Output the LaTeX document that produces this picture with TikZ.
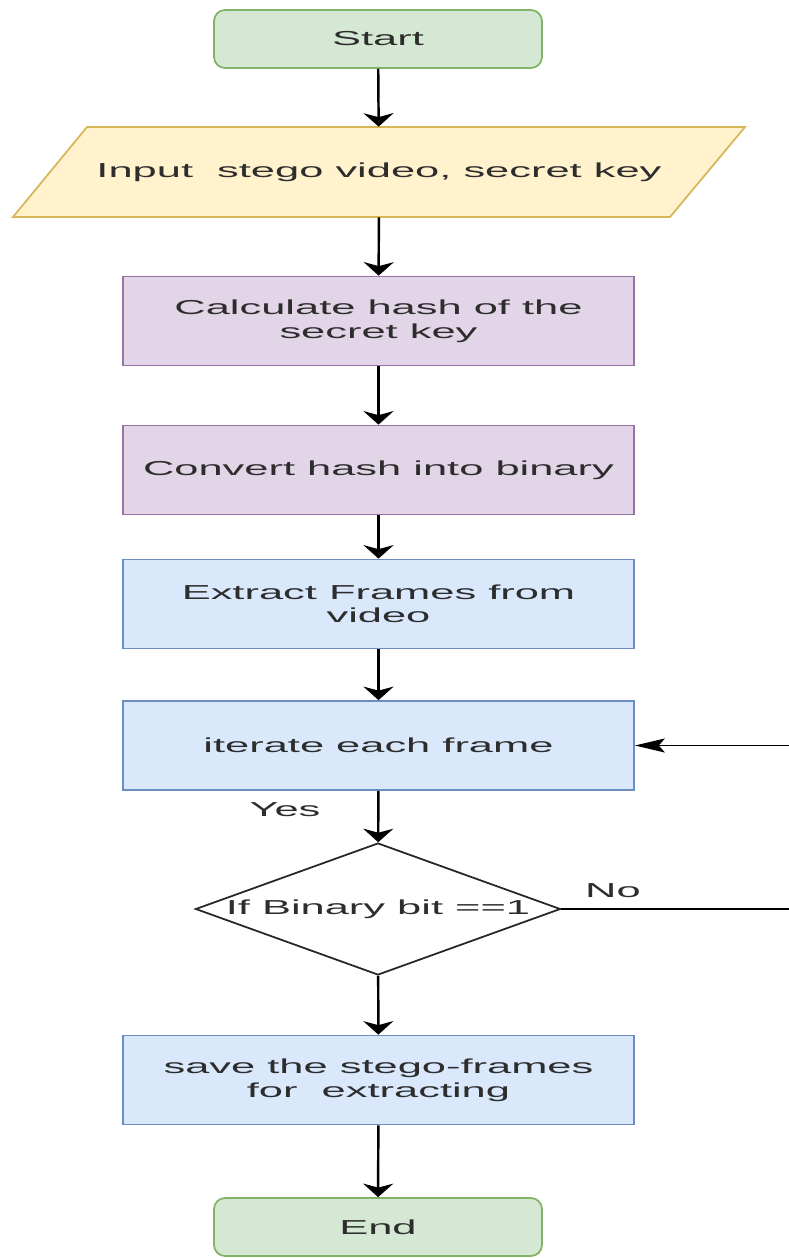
\documentclass[tikz,border=0pt]{standalone}
\usepackage{fontspec}
\setmainfont{Liberation Sans}[FakeStretch=2.15]
\usetikzlibrary{shapes.geometric,arrows.meta,positioning}
\definecolor{termfill}{RGB}{213,232,212}
\definecolor{termline}{RGB}{130,179,102}
\definecolor{iofill}{RGB}{255,242,204}
\definecolor{ioline}{RGB}{214,182,86}
\definecolor{hashfill}{RGB}{225,213,231}
\definecolor{hashline}{RGB}{150,115,166}
\definecolor{framefill}{RGB}{218,232,252}
\definecolor{frameline}{RGB}{108,142,191}
\definecolor{txt}{RGB}{45,45,45}

\begin{document}
\begin{tikzpicture}[
    x=0.02cm, y=-0.02cm,
    every node/.style={font=\fontsize{11.5}{13.4}\selectfont, text=txt, align=center},
    term/.style={rectangle, rounded corners=0.22cm, draw=termline, fill=termfill, line width=1pt, minimum width=6.56cm, minimum height=1.16cm},
    io/.style={draw=ioline, fill=iofill, line width=1pt, line join=miter},
    io_text/.style={rectangle, minimum width=11.6cm, minimum height=1.8cm},
    hash_box/.style={rectangle, draw=hashline, fill=hashfill, line width=1pt, minimum width=10.22cm, minimum height=1.78cm},
    frame_box/.style={hash_box, draw=frameline, fill=framefill},
    decision/.style={diamond, draw=black!85, line width=1pt, inner sep=0pt, minimum width=7.3cm, minimum height=2.64cm},
    flow/.style={-{Stealth[length=0.27cm, width=0.6cm, inset=0.08cm]}, line width=1.4pt},
    back_flow/.style={-{Stealth[length=0.6cm, width=0.28cm, inset=0.12cm]}, line width=1.1pt},
]
\useasboundingbox (0,0) rectangle (788,1258);

% Terminals
\node[term] (start) at (378,39) {Start};
\node[term] (finish) at (378,1227) {End};

% Input (parallelogram)
\draw[io] (87,127) -- (745,127) -- (670,217) -- (13,217) -- cycle;
\node[io_text] (input) at (379,172) {Input\ \ stego video, secret key};

% Hash steps
\node[hash_box] (hash) at (378.5,321) {Calculate hash of the\\secret key};
\node[hash_box] (binary) at (378.5,470) {Convert hash into binary};

% Frame steps
\node[frame_box] (extract) at (378.5,604) {Extract Frames from\\video};
\node[frame_box] (iter) at (378.5,745.5) {iterate each frame};
\node[decision, label=center:{If Binary bit ==1}] (dec) at (378,909) {};
\node[frame_box] (save) at (378.5,1080) {save the stego-frames\\for\ \ extracting};

% Main flow
\draw[flow] (start) -- (input);
\draw[flow] (input) -- (hash);
\draw[flow] (hash) -- (binary);
\draw[flow] (binary) -- (extract);
\draw[flow] (extract) -- (iter);
\draw[flow] (iter) -- (dec);
\draw[flow] (dec) -- (save);
\draw[flow] (save) -- (finish);

% Loop back
\coordinate (edge) at (800,909);
\draw[back_flow] (dec.east) -- (edge) |- (iter.east);

\node (yes) at (285,810) {Yes};
\node (no) at (613,891) {No};

\end{tikzpicture}
\end{document}
